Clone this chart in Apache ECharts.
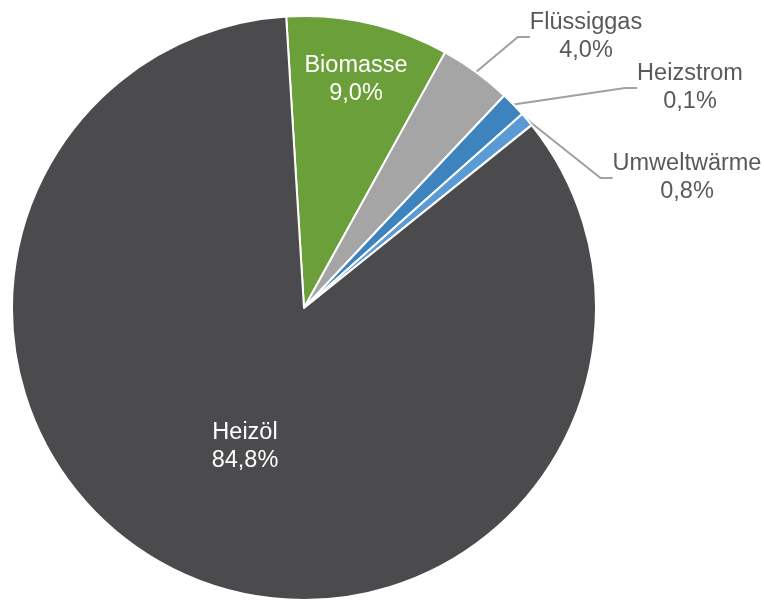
<!DOCTYPE html>
<html>
<head>
<meta charset="utf-8">
<script src="https://cdn.jsdelivr.net/npm/echarts@6/dist/echarts.min.js"></script>
<style>
  html, body { margin: 0; padding: 0; background: #fff; }
  #chart { width: 764px; height: 601px; }
</style>
</head>
<body>
<div id="chart"></div>
<script>
// ---- data ----
const categories = ['Biomasse', 'Flüssiggas', 'Heizstrom', 'Umweltwärme', 'Heizöl'];
// slice sizes as drawn in the picture (percent)
const sliceShares = [9.0, 4.0, 1.4, 0.8, 84.8];
// percentages printed on the labels
const labelShares = [9.0, 4.0, 0.1, 0.8, 84.8];

// ---- styles / layout ----
const colors = ['#6a9f3a', '#a5a5a5', '#3d83be', '#5b9bd5', '#4b4b4d'];
const insideLabel = [true, false, false, false, true];
// label anchor (centre of the text block), px
const labelSpots = [[356, 80], [586, 37], [690, 88], [687, 178], [245, 447]];

const fmt = v => v.toFixed(1).replace('.', ',') + '%';

const chart = echarts.init(document.getElementById('chart'), null, { renderer: 'canvas' });

const data = categories.map((name, i) => ({
  name: name,
  value: sliceShares[i],
  itemStyle: { color: colors[i] },
  label: {
    color: insideLabel[i] ? '#ffffff' : '#595959'
  },
  labelLine: { show: !insideLabel[i] }
}));

chart.setOption({
  animation: false,
  series: [{
    type: 'pie',
    center: [304, 308],
    radius: [0, 292],
    startAngle: 93.5,
    clockwise: true,
    avoidLabelOverlap: false,
    data: data,
    itemStyle: { borderColor: '#ffffff', borderWidth: 2 },
    emphasis: { disabled: true },
    label: {
      show: true,
      position: 'outside',
      fontFamily: 'Liberation Sans, Arial, sans-serif',
      fontSize: 23.5,
      lineHeight: 28,
      align: 'center',
      formatter: p => p.name + '\n' + fmt(labelShares[p.dataIndex])
    },
    labelLine: {
      show: true,
      length: 20,
      length2: 12,
      lineStyle: { color: '#a0a0a0', width: 2 }
    },
    labelLayout: function (params) {
      const s = labelSpots[params.dataIndex];
      return { x: s[0], y: s[1], align: 'center', verticalAlign: 'middle', hideOverlap: false, moveOverlap: null };
    }
  }]
});
</script>
</body>
</html>
